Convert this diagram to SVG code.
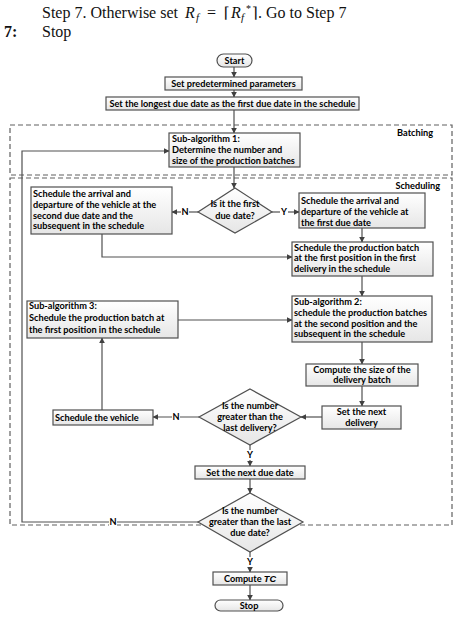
<svg xmlns="http://www.w3.org/2000/svg" width="462" height="618" viewBox="0 0 462 618">
<defs>
<linearGradient id="g" x1="0" y1="0" x2="0" y2="1"><stop offset="0" stop-color="#ffffff"/><stop offset="1" stop-color="#e6e6e6"/></linearGradient>
<marker id="ar" viewBox="0 0 10 10" refX="9" refY="5" markerWidth="6" markerHeight="6" orient="auto" markerUnits="userSpaceOnUse"><path d="M0,0 L10,5 L0,10 z" fill="#404040"/></marker>
<style>
.b{fill:url(#g);stroke:#505050;stroke-width:1.2}
.d{fill:none;stroke:#606060;stroke-width:1.2;stroke-dasharray:5,3}
.c{fill:none;stroke:#505050;stroke-width:1.2;marker-end:url(#ar)}
text{font-family:Lato,"Liberation Sans",sans-serif;font-weight:bold;font-size:9.2px;fill:#000}
.m{text-anchor:middle}
.e{text-anchor:end}
.s{font-family:"Liberation Serif","DejaVu Serif",serif;font-weight:normal;font-size:16px;fill:#111}
.lb{fill:#fff}
</style>
</defs>
<g id="header">
<text class="s" x="42" y="18">Step 7. Otherwise set <tspan x="185" font-style="italic">R</tspan><tspan x="196" font-style="italic" font-size="11" dy="3">f</tspan><tspan x="207" dy="-3">=</tspan><tspan x="224" font-family="DejaVu Serif" font-size="15">⌈</tspan><tspan x="231" font-style="italic">R</tspan><tspan x="241" font-style="italic" font-size="11" dy="3">f</tspan><tspan x="246" font-size="10" dy="-9">*</tspan><tspan x="252" dy="6" font-family="DejaVu Serif" font-size="15">⌉</tspan><tspan x="258">. Go to Step 7</tspan></text>
<text class="s" x="4" y="37" style="font-weight:bold">7:</text>
<text class="s" x="42" y="37">Stop</text>
</g>
<g id="regions">
<rect class="d" x="10" y="125" width="442" height="50"/>
<text class="e" x="433" y="136">Batching</text>
<rect class="d" x="10" y="178" width="442" height="347"/>
<text class="e" x="440" y="189">Scheduling</text>
</g>
<g id="connectors">
<path class="c" d="M234,67 V77"/>
<path class="c" d="M234,90 V97"/>
<path class="c" d="M234,110 V133"/>
<path class="c" d="M234,167 V188"/>
<path class="c" d="M198,212 H172"/>
<path class="c" d="M272,212 H299"/>
<path class="c" d="M102,234 V257 H292"/>
<path class="c" d="M362,228 V242"/>
<path class="c" d="M362,276 V296"/>
<path class="c" d="M178,320 H292"/>
<path class="c" d="M362,342 V364"/>
<path class="c" d="M362,386 V406"/>
<path class="c" d="M322,417 H301"/>
<path class="c" d="M199,417 H153"/>
<path class="c" d="M102,410 V338"/>
<path class="c" d="M250,445 V466"/>
<path class="c" d="M250,479 V493"/>
<path class="c" d="M198,522 H22 V151 H169"/>
<path class="c" d="M250,552 V572"/>
<path class="c" d="M250,585 V600"/>
<rect class="lb" x="181" y="207" width="8" height="10"/><text class="m" x="185" y="215">N</text>
<rect class="lb" x="280" y="207" width="8" height="10"/><text class="m" x="284" y="215">Y</text>
<rect class="lb" x="172" y="412" width="8" height="10"/><text class="m" x="176" y="420">N</text>
<rect class="lb" x="246" y="450" width="8" height="10"/><text class="m" x="250" y="458">Y</text>
<rect class="lb" x="109" y="517" width="8" height="10"/><text class="m" x="113" y="525">N</text>
<rect class="lb" x="246" y="557" width="8" height="10"/><text class="m" x="250" y="565">Y</text>
</g>
<g id="start"><rect class="b" x="217" y="54" width="35" height="13" rx="6.5"/><text class="m" x="234.5" y="64">Start</text></g>
<g id="params"><rect class="b" x="165" y="77" width="137" height="13"/><text class="m" x="233.5" y="87">Set predetermined parameters</text></g>
<g id="longest"><rect class="b" x="106" y="97" width="253" height="13"/><text class="m" x="232.5" y="107">Set the longest due date as the first due date in the schedule</text></g>
<g id="sub1"><rect class="b" x="169" y="133" width="131" height="34"/>
<text x="172" y="142">Sub-algorithm 1:</text><text x="172" y="153">Determine the number and</text><text x="172" y="164">size of the production batches</text></g>
<g id="dec1"><polygon class="b" points="235,188 272,212 235,233 198,212"/>
<text class="m" x="235" y="207">Is it the first</text><text class="m" x="235" y="219">due date?</text></g>
<g id="second"><rect class="b" x="31" y="187" width="141" height="47"/>
<text x="33" y="197">Schedule the arrival and</text><text x="33" y="208">departure of the vehicle at the</text><text x="33" y="219">second due date and the</text><text x="33" y="229">subsequent in the schedule</text></g>
<g id="first"><rect class="b" x="299" y="193" width="126" height="35"/>
<text x="301" y="204">Schedule the arrival and</text><text x="301" y="215">departure of the vehicle at</text><text x="301" y="226">the first due date</text></g>
<g id="prod"><rect class="b" x="292" y="242" width="141" height="34"/>
<text x="294" y="251">Schedule the production batch</text><text x="294" y="261">at the first position in the first</text><text x="294" y="272">delivery in the schedule</text></g>
<g id="sub2"><rect class="b" x="292" y="296" width="140" height="46"/>
<text x="294" y="305">Sub-algorithm 2:</text><text x="294" y="316">schedule the production batches</text><text x="294" y="327">at the second position and the</text><text x="294" y="337">subsequent in the schedule</text></g>
<g id="sub3"><rect class="b" x="27" y="301" width="151" height="37"/>
<text x="29" y="309">Sub-algorithm 3:</text><text x="29" y="321">Schedule the production batch at</text><text x="29" y="333">the first position in the schedule</text></g>
<g id="size"><rect class="b" x="306" y="364" width="112" height="22"/>
<text class="m" x="362" y="373">Compute the size of the</text><text class="m" x="362" y="383">delivery batch</text></g>
<g id="nextdel"><rect class="b" x="322" y="406" width="79" height="23"/>
<text class="m" x="361.5" y="415">Set the next</text><text class="m" x="361.5" y="426">delivery</text></g>
<g id="dec2"><polygon class="b" points="250,389 301,417 250,445 199,417"/>
<text class="m" x="250" y="409">Is the number</text><text class="m" x="250" y="420">greater than the</text><text class="m" x="250" y="431">last delivery?</text></g>
<g id="vehicle"><rect class="b" x="53" y="410" width="100" height="15"/><text x="55" y="420.5">Schedule the vehicle</text></g>
<g id="nextdue"><rect class="b" x="195" y="466" width="110" height="13"/><text class="m" x="250" y="476">Set the next due date</text></g>
<g id="dec3"><polygon class="b" points="250,493 303,522 250,552 198,522"/>
<text class="m" x="250" y="514">Is the number</text><text class="m" x="250" y="525">greater than the last</text><text class="m" x="250" y="536">due date?</text></g>
<g id="tc"><rect class="b" x="213" y="572" width="74" height="13"/><text class="m" x="250" y="582">Compute <tspan font-family="Liberation Sans" font-style="italic">TC</tspan></text></g>
<g id="stop"><rect class="b" x="215" y="600" width="68" height="11" rx="5.5"/><text class="m" x="249" y="609">Stop</text></g>
</svg>
